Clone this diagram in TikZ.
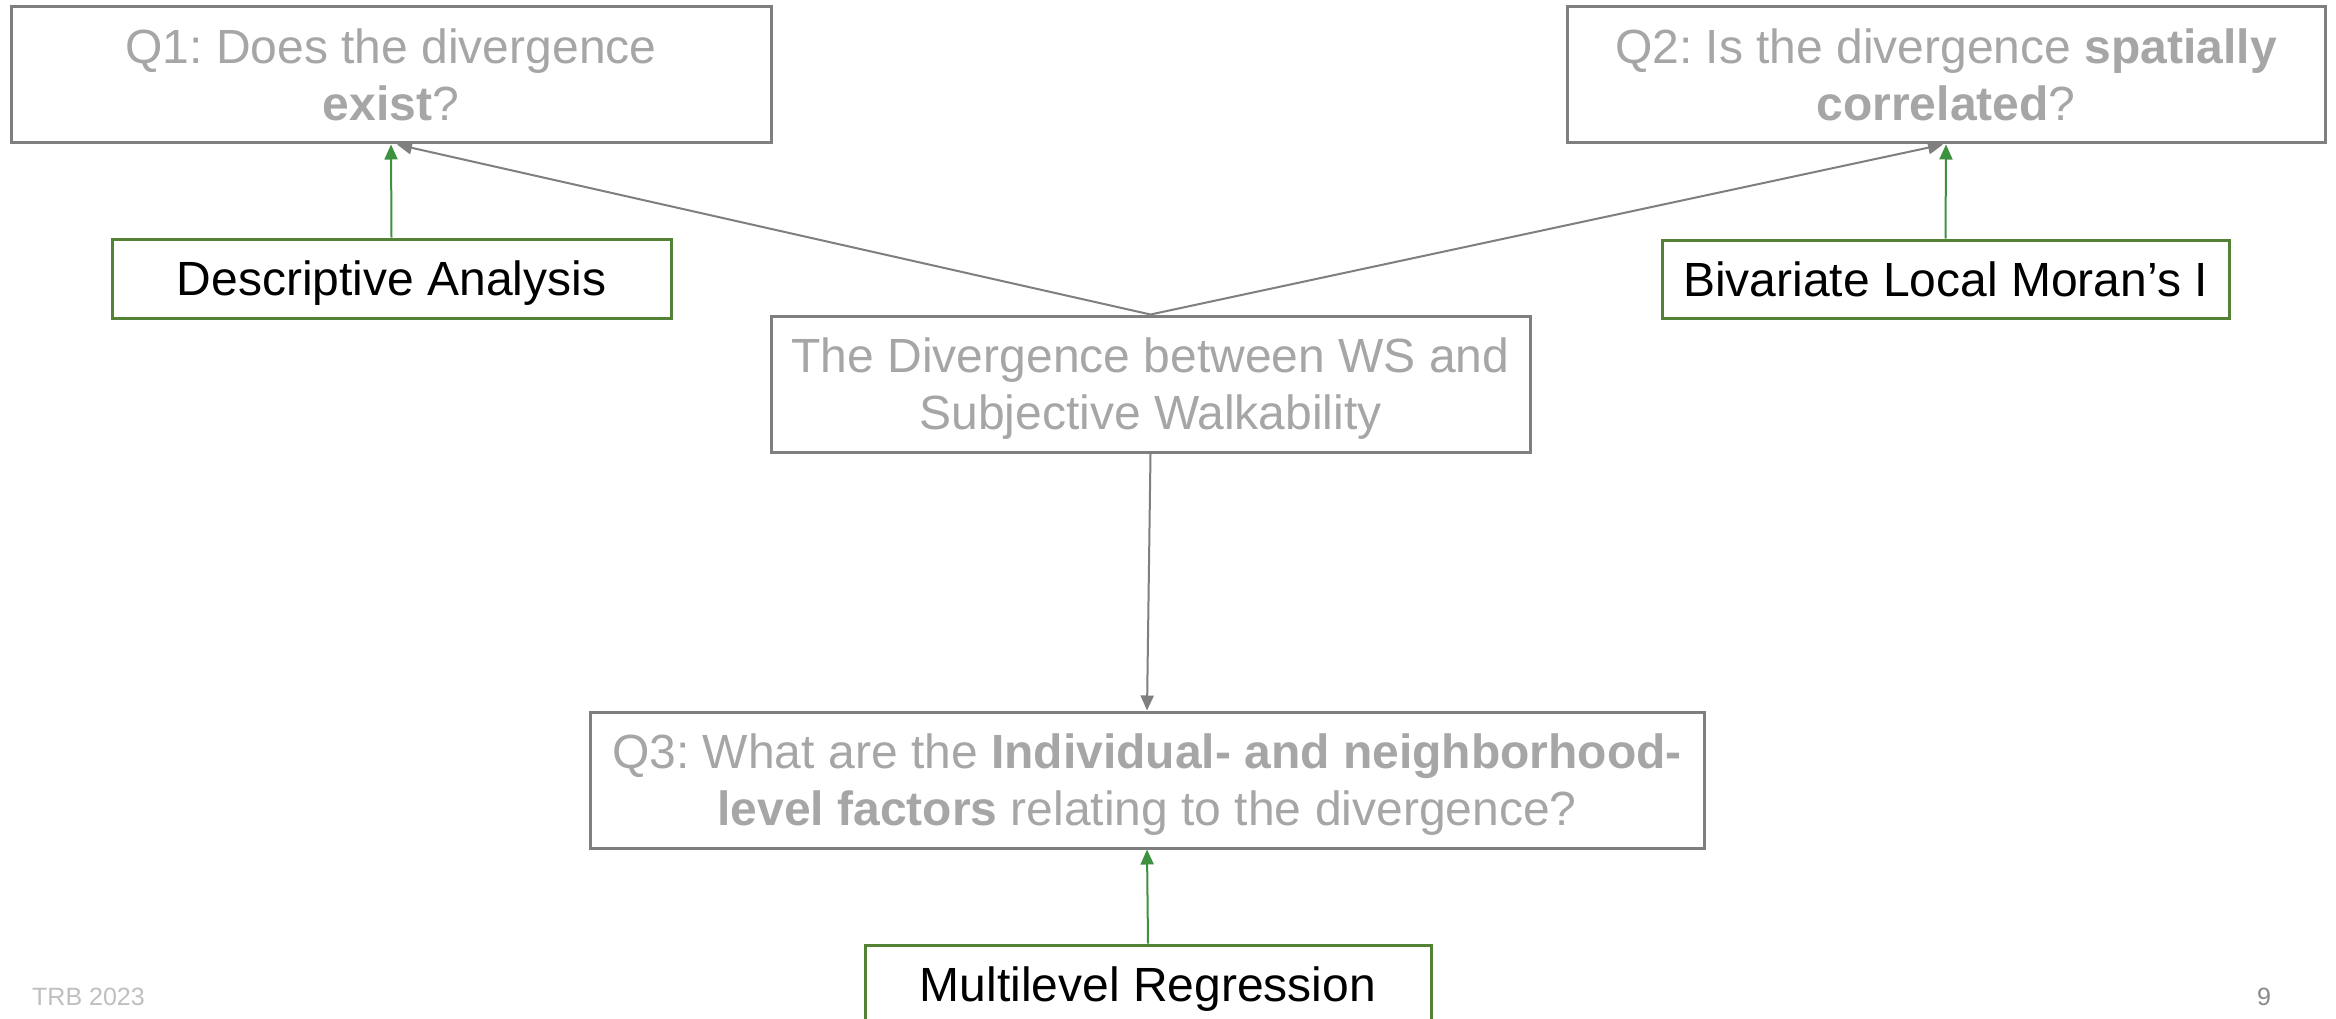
\documentclass[tikz,border=0pt]{standalone}
\usepackage{fontspec}
\setmainfont{Liberation Sans}
\usetikzlibrary{arrows.meta}
\definecolor{txtgray}{HTML}{A6A6A6}
\definecolor{boxgray}{HTML}{7F7F7F}
\definecolor{boxgreen}{HTML}{548235}
\definecolor{arrgreen}{HTML}{3E913F}
\definecolor{footgray}{HTML}{BFBFBF}
\definecolor{numgray}{HTML}{898989}
\frenchspacing
\begin{document}
\begin{tikzpicture}[x=1pt,y=-1pt,
 qbox/.style={draw=boxgray, line width=3pt, text=txtgray, align=center, inner sep=0pt, text depth=0pt, font=\fontsize{48}{57}\selectfont},
 mbox/.style={draw=boxgreen, line width=3pt, text=black, align=center, inner sep=0pt, text depth=0pt, font=\fontsize{48}{57}\selectfont},
 grayarrow/.style={draw=boxgray, line width=2pt, -{Triangle[length=15pt,width=13pt]}},
 greenarrow/.style={draw=arrgreen, line width=2pt, -{Triangle[length=15pt,width=13pt]}},
 foot/.style={inner sep=0pt, anchor=base west, font=\fontsize{25}{30}\selectfont},
]
\clip (0,0) rectangle (2336,1019);
\fill[white] (0,0) rectangle (2336,1019);

\node[qbox, minimum width=760pt, minimum height=136pt] (q1) at (391,75)
  {Q1: Does the divergence\\\textbf{exist}?};
\node[qbox, minimum width=758pt, minimum height=136pt] (q2) at (1946,75)
  {Q2: Is the divergence \textbf{spatially}\\\textbf{correlated}?};
\node[mbox, minimum width=559pt, minimum height=79pt] (desc) at (391.5,278.5)
  {Descriptive Analysis};
\node[mbox, minimum width=567pt, minimum height=78pt] (biv) at (1945.5,279)
  {Bivariate Local Moran’s I};
\node[qbox, minimum width=759pt, minimum height=136pt] (mid) at (1150.5,384)
  {The Divergence between WS and\\Subjective Walkability};
\node[qbox, minimum width=1114pt, minimum height=136pt] (q3) at (1147,780)
  {Q3: What are the \textbf{Individual- and neighborhood-}\\\textbf{level factors} relating to the divergence?};
\node[mbox, minimum width=566pt, minimum height=79pt] (multi) at (1148,984.5)
  {Multilevel Regression};

\node[foot, text=footgray] (trb) at (32,1005) {TRB 2023};
\node[foot, text=numgray] (num) at (2257,1005) {9};

\draw[greenarrow] (desc.north) -- (q1.south);
\draw[greenarrow] (biv.north) -- (q2.south);
\draw[greenarrow] (multi.north) -- (q3.south);
\draw[grayarrow] (mid.north) -- ([xshift=6pt]q1.south);
\draw[grayarrow] (mid.north) -- ([xshift=-3pt]q2.south);
\draw[grayarrow] (mid.south) -- (q3.north);
\end{tikzpicture}
\end{document}
